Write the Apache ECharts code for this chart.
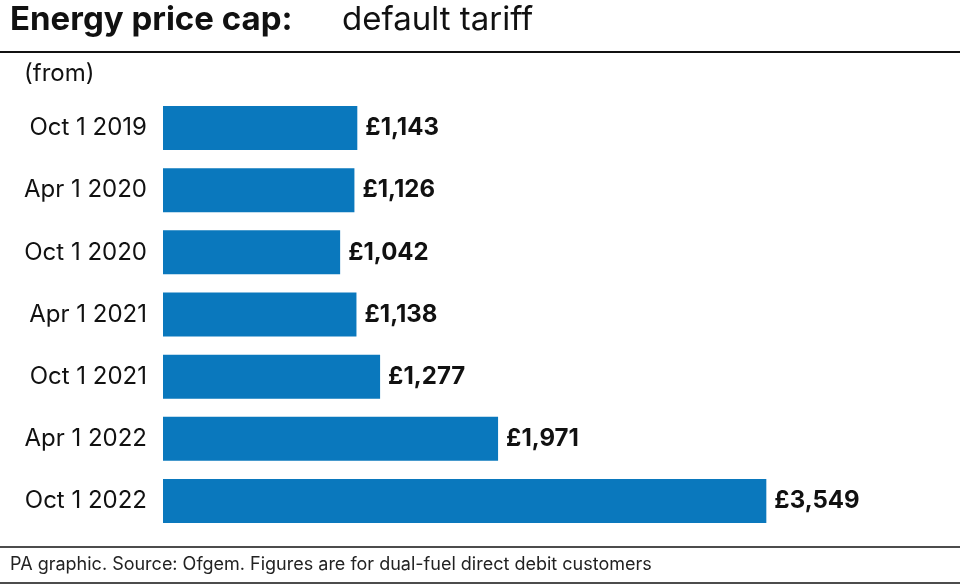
<!DOCTYPE html>
<html>
<head>
<meta charset="UTF-8">
<title>Energy price cap</title>
<script src="https://cdn.jsdelivr.net/npm/echarts@6/dist/echarts.min.js"></script>
<style>html,body{margin:0;padding:0;background:#fff}</style>
</head>
<body>
<div id="chart" style="width:960px;height:588px"></div>
<script>
var dates = ['Oct 1 2019', 'Apr 1 2020', 'Oct 1 2020', 'Apr 1 2021', 'Oct 1 2021', 'Apr 1 2022', 'Oct 1 2022'];
var caps = [1143, 1126, 1042, 1138, 1277, 1971, 3549];

var chart = echarts.init(document.getElementById('chart'));
var option = {
    animation: false,
    textStyle: { fontFamily: 'Inter' },
    grid: { left: 163, right: 117, top: 97, bottom: 56 },
    xAxis: { type: 'value', min: 0, max: 4000, show: false },
    yAxis: {
        type: 'category', inverse: true, data: dates,
        axisLine: { show: false }, axisTick: { show: false },
        axisLabel: { fontSize: 24, color: '#111', margin: 16, fontFamily: 'Inter', letterSpacing: -1 }
    },
    series: [{
        type: 'bar', data: caps, barWidth: 44,
        itemStyle: { color: '#0a78bd' },
        label: {
            show: true, position: 'right', distance: 8,
            fontSize: 24, fontWeight: 'bold', color: '#111', fontFamily: 'Inter',
            formatter: function (p) { return '£' + p.value.toLocaleString('en-GB'); }
        }
    }],
    graphic: [
        { type: 'text', left: 10, top: 4, style: { text: 'Energy price cap:', fontSize: 33, fontWeight: 'bold', fill: '#111', fontFamily: 'Inter' } },
        { type: 'text', left: 342, top: 4, style: { text: 'default tariff', fontSize: 33, fill: '#111', fontFamily: 'Inter' } },
        { type: 'line', shape: { x1: 0, y1: 52, x2: 960, y2: 52 }, style: { stroke: '#111', lineWidth: 2 } },
        { type: 'text', left: 24, top: 62, style: { text: '(from)', fontSize: 24, fill: '#111', fontFamily: 'Inter' } },
        { type: 'line', shape: { x1: 0, y1: 547, x2: 960, y2: 547 }, style: { stroke: '#111', lineWidth: 1.5 } },
        { type: 'text', left: 10, top: 556, style: { text: 'PA graphic. Source: Ofgem. Figures are for dual-fuel direct debit customers', fontSize: 18, fill: '#222', fontFamily: 'Inter' } },
        { type: 'line', shape: { x1: 0, y1: 583, x2: 960, y2: 583 }, style: { stroke: '#111', lineWidth: 1.5 } }
    ]
};
chart.setOption(option);
</script>
</body>
</html>
